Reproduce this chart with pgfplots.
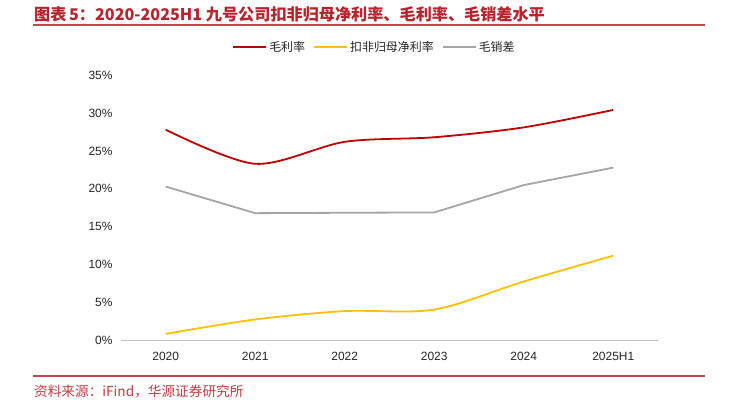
\documentclass[border=0pt]{standalone}
\usepackage{pgfplots}
\pgfplotsset{compat=1.18}
\usepackage{fontspec}
\setmainfont{Liberation Sans}
\newfontfamily\cjk{Noto Sans CJK SC}
\definecolor{titlered}{RGB}{185,35,45}
\definecolor{rulered}{RGB}{200,70,75}
\definecolor{srcred}{RGB}{200,60,65}
\definecolor{gmred}{RGB}{192,0,0}
\definecolor{npyellow}{RGB}{255,192,0}
\definecolor{spgray}{RGB}{165,165,165}
\definecolor{axgray}{RGB}{191,191,191}
\definecolor{txtgray}{RGB}{38,38,38}

\begin{document}
\begin{tikzpicture}
\path[use as bounding box, fill=white] (0,0) rectangle (729bp,406bp);

% title block
\node[anchor=west, text=titlered, font=\cjk\bfseries\fontsize{16.2}{18}\selectfont, inner sep=0]
  at (34bp,392bp) {图表\,5：2020-2025H1 九号公司扣非归母净利率、毛利率、毛销差水平};
\draw[rulered, line width=1.2bp] (33bp,381bp) -- (705bp,381bp);
\draw[rulered, line width=1.2bp] (33bp,30bp) -- (705bp,30bp);
\node[anchor=west, text=srcred, font=\cjk\fontsize{13.7}{15}\selectfont, inner sep=0]
  at (34bp,15bp) {资料来源：iFind，华源证券研究所};

\begin{axis}[
    at={(121bp,65.3bp)}, anchor=south west,
    scale only axis,
    width=537bp, height=265.7bp,
    xmin=-0.5, xmax=5.5,
    ymin=0, ymax=35,
    axis x line*=bottom,
    axis y line*=left,
    x axis line style={axgray, line width=1.2bp, -},
    y axis line style={draw=none},
    major tick length=0pt,
    xtick={0,1,2,3,4,5},
    xticklabels={2020,2021,2022,2023,2024,2025H1},
    ytick={0,5,10,15,20,25,30,35},
    yticklabels={0\%,5\%,10\%,15\%,20\%,25\%,30\%,35\%},
    ticklabel style={font=\fontsize{12}{14}\selectfont, text=txtgray},
    xticklabel style={yshift=-8bp},
    yticklabel style={xshift=-5bp},
    clip=false,
    legend columns=3,
    legend style={draw=none, fill=none, inner sep=0pt,
        at={(rel axis cs:0.472,1.105)}, anchor=center,
        font=\cjk\fontsize{12}{14}\selectfont, text=txtgray,
        /tikz/every even column/.append style={column sep=6bp}},
    legend image code/.code={\draw[#1, line width=2bp] (0bp,0bp) -- (33bp,0bp);},
]
\addplot[gmred, line width=1.8bp, smooth] coordinates {
  (0,27.8) (1,23.3) (2,26.2) (3,26.8) (4,28.1) (5,30.4)};
\addlegendentry{毛利率}
\addplot[npyellow, line width=1.8bp, smooth] coordinates {
  (0,0.9) (1,2.8) (2,3.9) (3,4.1) (4,7.8) (5,11.2)};
\addlegendentry{扣非归母净利率}
\addplot[spgray, line width=1.8bp] coordinates {
  (0,20.3) (1,16.8) (2,16.85) (3,16.9) (4,20.5) (5,22.8)};
\addlegendentry{毛销差}
\end{axis}
\end{tikzpicture}
\end{document}
